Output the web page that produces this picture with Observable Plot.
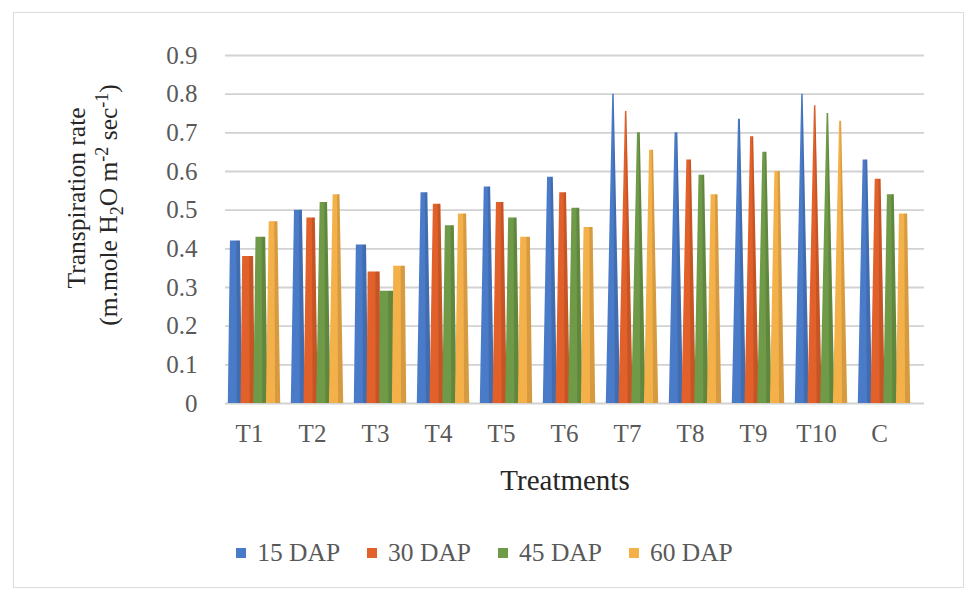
<!DOCTYPE html>
<html>
<head>
<meta charset="utf-8">
<script src="https://cdn.jsdelivr.net/npm/d3@7"></script>
<script src="https://cdn.jsdelivr.net/npm/@observablehq/plot@0.6"></script>
<style>
  html, body { margin: 0; padding: 0; background: #fff; }
  #wrap { position: relative; width: 967px; height: 591px; overflow: hidden; }
  #frame { position: absolute; left: 13px; top: 12px; width: 951px; height: 576px; border: 1.5px solid #dcdcdc; box-sizing: border-box; pointer-events: none; }
  #legend { display: flex; justify-content: center; align-items: center; gap: 27px; font-family: "Liberation Serif", serif; font-size: 25.5px; color: #595959; height: 24px; margin-top: 26px; padding-left: 2px; }
  #legend .item { display: flex; align-items: center; gap: 11px; }
  #legend .sw { width: 10px; height: 10px; display: inline-block; }
</style>
</head>
<body>
<div id="wrap">
  <div id="chart"></div>
  <div id="legend"></div>
  <div id="frame"></div>
</div>
<script>
const treatments = ["T1","T2","T3","T4","T5","T6","T7","T8","T9","T10","C"];
const seriesNames = ["15 DAP","30 DAP","45 DAP","60 DAP"];
const dap15 = [0.42, 0.50, 0.41, 0.545, 0.56, 0.585, 0.80, 0.70, 0.735, 0.80, 0.63];
const dap30 = [0.38, 0.48, 0.34, 0.515, 0.52, 0.545, 0.755, 0.63, 0.69, 0.77, 0.58];
const dap45 = [0.43, 0.52, 0.29, 0.46, 0.48, 0.505, 0.70, 0.59, 0.65, 0.75, 0.54];
const dap60 = [0.47, 0.54, 0.355, 0.49, 0.43, 0.455, 0.655, 0.54, 0.60, 0.73, 0.49];
const yTicks = [0, 0.1, 0.2, 0.3, 0.4, 0.5, 0.6, 0.7, 0.8, 0.9];
const colors = ["#4a7bc8", "#e2612b", "#6f9a48", "#f4b14a"];

const seriesValues = [dap15, dap30, dap45, dap60];
const data = treatments.flatMap((t, i) => seriesNames.map((s, j) => ({treatment: t, series: s, value: seriesValues[j][i]})));

const W = 967, H = 515, ML = 215, MR = 53, MT = 55, MB = 112;
const step = (W - ML - MR) / 11;
const bw = step * 0.8;
const q = bw / 4;

const barMarks = seriesNames.map((s, j) =>
  Plot.barY(data.filter(d => d.series === s), {
    x: "treatment", y: "value", fill: "series",
    insetLeft: j * q - 1.2, insetRight: (3 - j) * q - 1.2, dx: 5
  })
);

const plot = Plot.plot({
  width: W, height: H,
  marginLeft: ML, marginRight: MR, marginTop: MT, marginBottom: MB,
  style: {fontFamily: "Liberation Serif, serif", fontSize: "25px", color: "#595959", background: "transparent"},
  x: {domain: treatments, paddingInner: 0.2, paddingOuter: 0.1, tickSize: 0, tickPadding: 21, label: null},
  y: {domain: [0, 0.9], ticks: yTicks, tickSize: 0, tickPadding: 18, label: null,
      tickFormat: d => d === 0 ? "0" : d.toFixed(1)},
  color: {domain: seriesNames, range: colors},
  marks: [
    Plot.ruleY(yTicks, {stroke: "#d2d2d2", strokeWidth: 1.8, dx: 10}),
    ...barMarks
  ]
});
document.getElementById("chart").appendChild(plot);

// turn the bars into tapered pyramids (positions come from Plot's scales)
const yS = plot.scale("y");
const y0 = yS.apply(0);
const ppu = y0 - yS.apply(1);
const svg = d3.select(plot);
svg.selectAll('g[aria-label="bar"] rect').each(function () {
  const r = d3.select(this);
  const x = +r.attr("x"), y = +r.attr("y"), w = +r.attr("width"), h = +r.attr("height");
  const fill = r.attr("fill");
  const g = d3.select(this.parentNode);
  const v = h / ppu;
  const yb = y + h, yt = y, cx = x + w / 2;
  const tw = w * Math.min(1, Math.max(0.1, (0.81 - v) / 0.56));
  const pts = [[x, yb], [x + w, yb], [cx + tw / 2, yt], [cx - tw / 2, yt]];
  g.insert("polygon", () => this).attr("points", pts.map(p => p.join(",")).join(" ")).attr("fill", fill);
  const side = [[x + w * 0.64, yb], [x + w, yb], [cx + tw / 2, yt], [cx + tw * 0.14, yt]];
  g.insert("polygon", () => this).attr("points", side.map(p => p.join(",")).join(" ")).attr("fill", "#000").attr("fill-opacity", 0.12);
  r.remove();
});

// axis titles
svg.append("text")
  .attr("transform", "translate(85,198) rotate(-90)")
  .attr("text-anchor", "middle").attr("fill", "#262626")
  .style("font-size", "25.5px").style("font-family", "Liberation Serif, serif")
  .text("Transpiration rate");
const t2 = svg.append("text")
  .attr("transform", "translate(117,205) rotate(-90)")
  .attr("text-anchor", "middle").attr("fill", "#262626")
  .style("font-size", "25.5px").style("font-family", "Liberation Serif, serif");
t2.append("tspan").text("(m.mole H");
t2.append("tspan").attr("dy", 6).style("font-size", "18px").text("2");
t2.append("tspan").attr("dy", -6).text("O m");
t2.append("tspan").attr("dy", -9).style("font-size", "18px").text("-2");
t2.append("tspan").attr("dy", 9).text(" sec");
t2.append("tspan").attr("dy", -9).style("font-size", "18px").text("-1");
t2.append("tspan").attr("dy", 9).text(")");

svg.append("text")
  .attr("x", 565).attr("y", 490)
  .attr("text-anchor", "middle").attr("fill", "#262626")
  .style("font-size", "29px").style("font-family", "Liberation Serif, serif")
  .text("Treatments");

// legend
const legend = d3.select("#legend");
seriesNames.forEach((s, j) => {
  const it = legend.append("div").attr("class", "item");
  it.append("span").attr("class", "sw").style("background", colors[j]);
  it.append("span").text(s);
});
</script>
</body>
</html>
